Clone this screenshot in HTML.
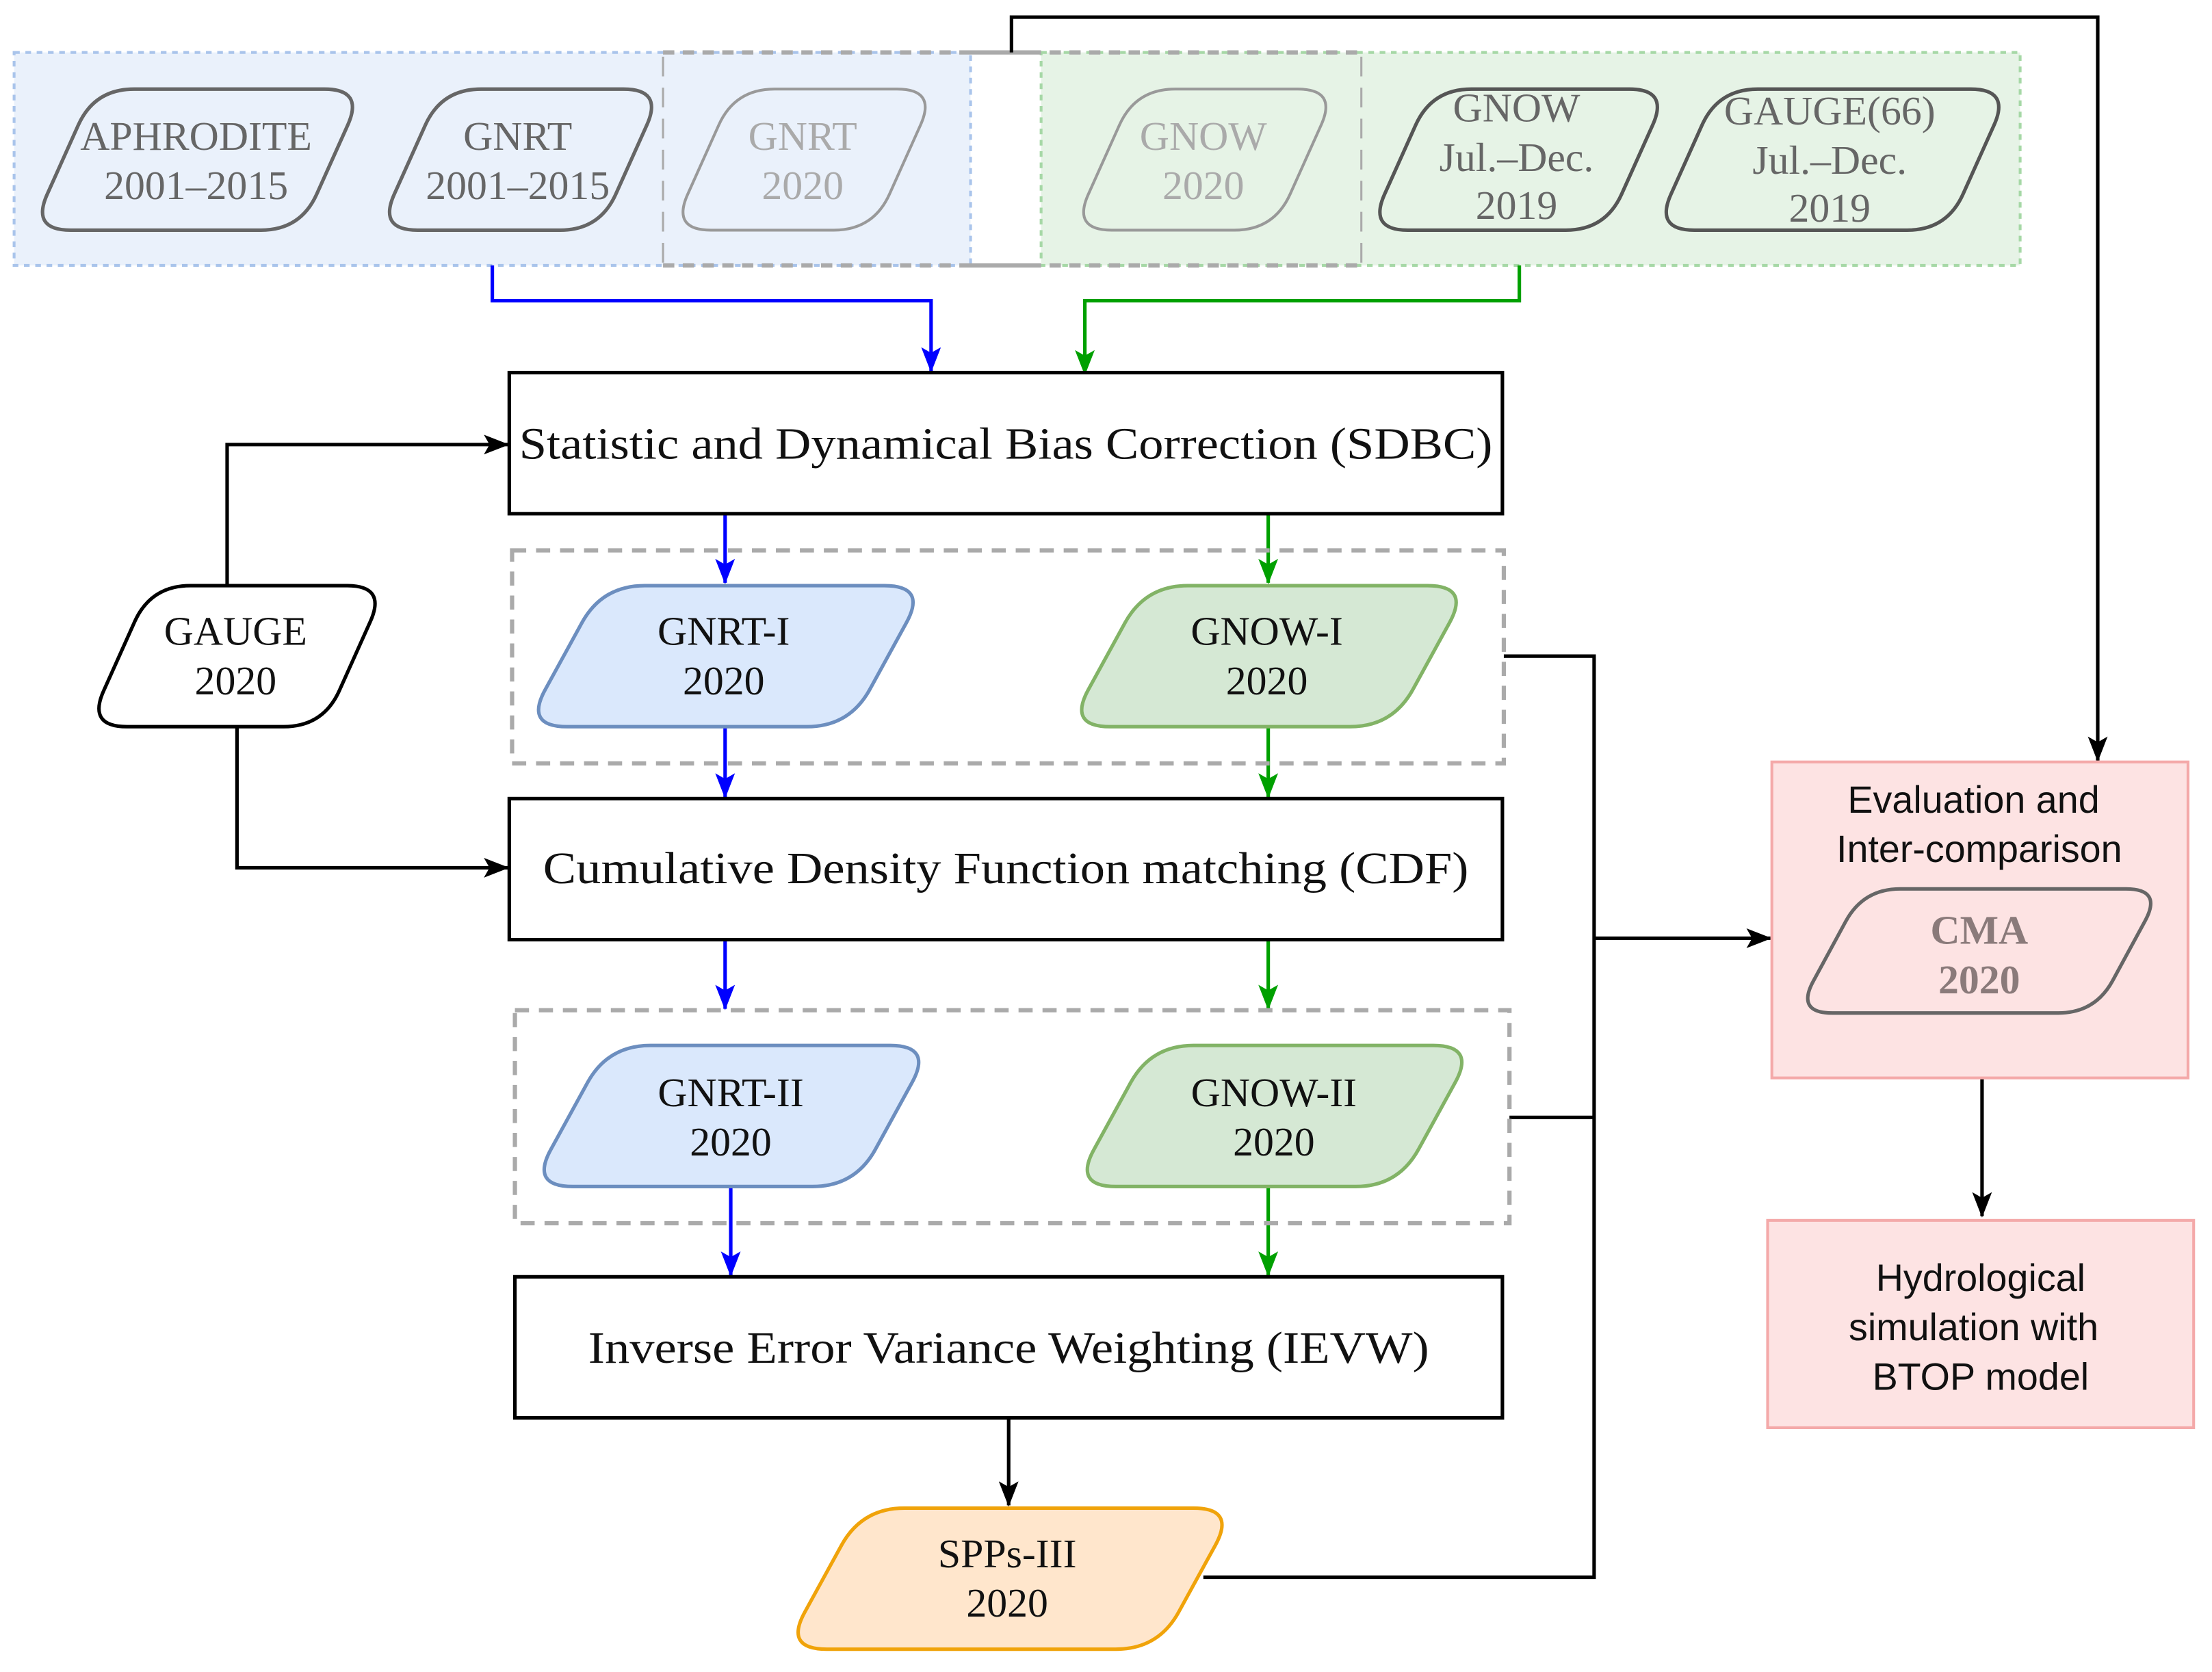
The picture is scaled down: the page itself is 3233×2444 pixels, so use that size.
<!DOCTYPE html>
<html><head><meta charset="utf-8"><style>
html,body{margin:0;padding:0;background:#fff}
svg{display:block}
.s{font-family:"Liberation Serif",serif}
.a{font-family:"Liberation Sans",sans-serif}
</style></head><body>
<svg id="g" width="3233" height="2444" viewBox="0 0 1568 1185" xmlns="http://www.w3.org/2000/svg">
<defs>
<marker id="ak" markerWidth="18" markerHeight="14" refX="17" refY="7" orient="auto" markerUnits="userSpaceOnUse"><path d="M0,0 L18,7 L0,14 L4,7 z" fill="#000"/></marker>
<marker id="ab" markerWidth="18" markerHeight="14" refX="17" refY="7" orient="auto" markerUnits="userSpaceOnUse"><path d="M0,0 L18,7 L0,14 L4,7 z" fill="#0000ff"/></marker>
<marker id="ag" markerWidth="18" markerHeight="14" refX="17" refY="7" orient="auto" markerUnits="userSpaceOnUse"><path d="M0,0 L18,7 L0,14 L4,7 z" fill="#00a000"/></marker>
</defs>
<rect x="10" y="37" width="678" height="151" fill="#eaf1fb" stroke="#a9c4eb" stroke-width="2" stroke-dasharray="4,4"/>
<rect x="738" y="37" width="694" height="151" fill="#e6f3e6" stroke="#a6d8a6" stroke-width="2" stroke-dasharray="4,4"/>
<path d="M470,37 H738 M470,188 H738 M688,37 H965 M688,188 H965" stroke="#aaa" stroke-width="3" stroke-dasharray="8,6" fill="none"/>
<path d="M470,40 V186 M965,40 V186" stroke="#aaa" stroke-width="1.5" stroke-dasharray="14,8"/>
<g id="shapes"></g>
<g fill="none" stroke-width="2.5">
<path d="M717,37 V12 H1487 V539" stroke="#000" marker-end="url(#ak)"/>
<path d="M349,188 V213 H660 V263" stroke="#0000ff" marker-end="url(#ab)"/>
<path d="M1077,188 V213 H769 V265" stroke="#00a000" marker-end="url(#ag)"/>
<path d="M161,415 V315 H360" stroke="#000" marker-end="url(#ak)"/>
<path d="M168,515 V615 H360" stroke="#000" marker-end="url(#ak)"/>
<path d="M514,364 V413" stroke="#0000ff" marker-end="url(#ab)"/>
<path d="M514,515 V565" stroke="#0000ff" marker-end="url(#ab)"/>
<path d="M514,666 V715" stroke="#0000ff" marker-end="url(#ab)"/>
<path d="M518,841 V904" stroke="#0000ff" marker-end="url(#ab)"/>
<path d="M899,364 V413" stroke="#00a000" marker-end="url(#ag)"/>
<path d="M899,515 V565" stroke="#00a000" marker-end="url(#ag)"/>
<path d="M899,666 V715" stroke="#00a000" marker-end="url(#ag)"/>
<path d="M899,841 V904" stroke="#00a000" marker-end="url(#ag)"/>
<path d="M715,1005 V1067" stroke="#000" marker-end="url(#ak)"/>
<path d="M1066,465 H1130 V1118 H853 M1070,792 H1130" stroke="#000"/>
<path d="M1130,665 H1255" stroke="#000" marker-end="url(#ak)"/>
<path d="M1405,764 V862" stroke="#000" marker-end="url(#ak)"/>
</g>
<g fill="#fff" stroke="#000" stroke-width="2.5">
<rect x="361" y="264" width="704" height="100"/>
<rect x="361" y="566" width="704" height="100"/>
<rect x="365" y="905" width="700" height="100"/>
</g>
<rect x="363" y="390" width="703" height="151" fill="none" stroke="#aaa" stroke-width="3" stroke-dasharray="10,7"/>
<rect x="365" y="716" width="705" height="151" fill="none" stroke="#aaa" stroke-width="3" stroke-dasharray="10,7"/>
<rect x="1256" y="540" width="295" height="224" fill="#fde3e3" stroke="#f4a9a9" stroke-width="2"/>
<rect x="1253" y="865" width="302" height="147" fill="#fde3e3" stroke="#f4a9a9" stroke-width="2"/>
<g id="shapes2"></g>
<g class="s" font-size="32" text-anchor="middle" fill="#111">
<text x="713" y="325" textLength="690" lengthAdjust="spacingAndGlyphs">Statistic and Dynamical Bias Correction (SDBC)</text>
<text x="713" y="626" textLength="656" lengthAdjust="spacingAndGlyphs">Cumulative Density Function matching (CDF)</text>
<text x="715" y="966" textLength="596" lengthAdjust="spacingAndGlyphs">Inverse Error Variance Weighting (IEVW)</text>
</g>
<g class="s" font-size="29" text-anchor="middle">
<g fill="#666"><text x="139" y="106">APHRODITE</text><text x="139" y="141">2001–2015</text>
<text x="367" y="106">GNRT</text><text x="367" y="141">2001–2015</text>
<text x="1075" y="86">GNOW</text><text x="1075" y="121">Jul.–Dec.</text><text x="1075" y="155">2019</text>
<text x="1297" y="88">GAUGE(66)</text><text x="1297" y="123">Jul.–Dec.</text><text x="1297" y="157">2019</text></g>
<g fill="#aaa"><text x="569" y="106">GNRT</text><text x="569" y="141">2020</text>
<text x="853" y="106">GNOW</text><text x="853" y="141">2020</text></g>
<g fill="#111">
<text x="167" y="457">GAUGE</text><text x="167" y="492">2020</text>
<text x="513" y="457">GNRT-I</text><text x="513" y="492">2020</text>
<text x="898" y="457">GNOW-I</text><text x="898" y="492">2020</text>
<text x="518" y="784">GNRT-II</text><text x="518" y="819">2020</text>
<text x="903" y="784">GNOW-II</text><text x="903" y="819">2020</text>
<text x="714" y="1111">SPPs-III</text><text x="714" y="1146">2020</text></g>
<g fill="#8a7a7a" font-weight="bold"><text x="1403" y="669">CMA</text><text x="1403" y="704">2020</text></g>
</g>
<g class="a" font-size="27" text-anchor="middle" fill="#111">
<text x="1399" y="576">Evaluation and</text><text x="1403" y="611">Inter-comparison</text>
<text x="1404" y="915">Hydrological</text><text x="1399" y="950">simulation with</text><text x="1404" y="985">BTOP model</text>
</g>
</svg>
<script>
function para(x,y,w,h,s,r,fill,stroke,sw){
  var P=[[x+s,y],[x+w,y],[x+w-s,y+h],[x,y+h]];
  var d="";
  for(var i=0;i<4;i++){
    var p=P[i],a=P[(i+3)%4],b=P[(i+1)%4];
    function pt(q){var dx=q[0]-p[0],dy=q[1]-p[1],L=Math.hypot(dx,dy);return [p[0]+dx/L*r,p[1]+dy/L*r];}
    var p1=pt(a),p2=pt(b);
    d+=(i==0?"M":"L")+p1[0].toFixed(1)+","+p1[1].toFixed(1)+" Q"+p[0]+","+p[1]+" "+p2[0].toFixed(1)+","+p2[1].toFixed(1)+" ";
  }
  d+="Z";
  return '<path d="'+d+'" fill="'+fill+'" stroke="'+stroke+'" stroke-width="'+sw+'"/>';
}
var g1="",g2="";
g1+=para(22,63,236,100,45,28,"none","#666",2.5);
g1+=para(268,63,202,100,45,28,"none","#666",2.5);
g1+=para(476,63,188,100,45,28,"none","#999",2);
g1+=para(760,63,188,100,45,28,"none","#999",2);
g1+=para(970,63,213,100,45,28,"none","#555",2.5);
g1+=para(1173,63,252,100,45,28,"none","#555",2.5);
g2+=para(62,415,212,100,45,28,"#fff","#000",2.5);
g2+=para(372,415,285,100,55,30,"#dae8fc","#6c8ebf",2.5);
g2+=para(757,415,285,100,55,30,"#d5e8d4","#82b366",2.5);
g2+=para(376,741,285,100,55,30,"#dae8fc","#6c8ebf",2.5);
g2+=para(761,741,285,100,55,30,"#d5e8d4","#82b366",2.5);
g2+=para(556,1069,320,100,55,30,"#ffe6cc","#f0a30a",2.5);
g2+=para(1273,630,260,88,48,26,"none","#666",2.5);
document.getElementById("shapes").innerHTML=g1;
document.getElementById("shapes2").innerHTML=g2;
</script>
</body></html>
